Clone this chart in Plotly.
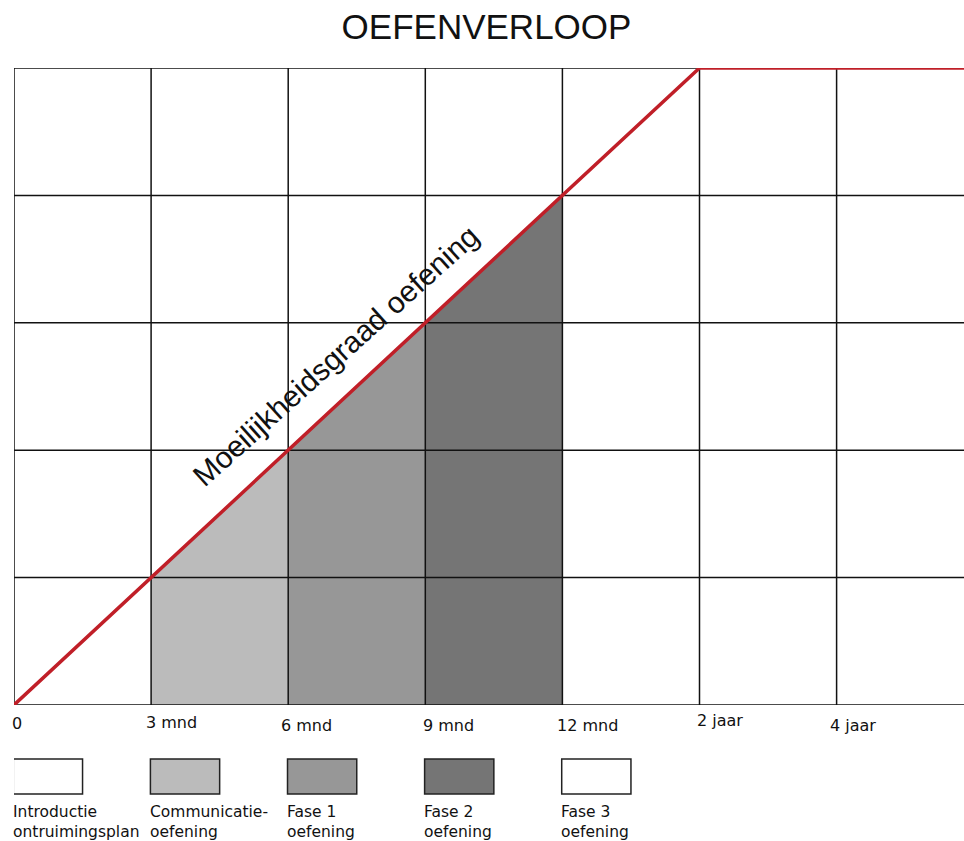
import numpy as np
import plotly.graph_objects as go

# ---- data ----
x_ticks = [0, 1, 2, 3, 4, 5, 6, 7]
tick_labels = ["0", "3 mnd", "6 mnd", "9 mnd", "12 mnd", "2 jaar", "4 jaar"]
y_levels = [0, 1, 2, 3, 4, 5]

difficulty_x = [0, 5, 7]
difficulty_y = [0, 5, 5]

phase_names = ["Introductie<br>ontruimingsplan", "Communicatie-<br>oefening",
               "Fase 1<br>oefening", "Fase 2<br>oefening", "Fase 3<br>oefening"]
phase_start = [0, 1, 2, 3, 4]
phase_end = [1, 2, 3, 4, 5]
phase_colors = ["#ffffff", "#bbbbbb", "#979797", "#757575", "#ffffff"]

title_text = "OEFENVERLOOP"
line_label = "Moeilijkheidsgraad oefening"

# ---- styles ----
ARIAL = "Liberation Sans, Arial, sans-serif"
SANS = "DejaVu Sans, Verdana, sans-serif"
W, H = 964, 841
ML, MR, MT = 14, 0, 68
PLOT_BOTTOM = 705
MB = H - PLOT_BOTTOM
PLOT_H = PLOT_BOTTOM - MT
unit_px = 137.1
x_max = (W - ML - MR) / unit_px
tick_dx = [-2, -5, -7, -2, -5, -3, -7]   # px offsets of tick labels
tick_dy = [2, 3, 0, 0, 0, 5, 0]

fig = go.Figure()

# phase fills under the difficulty line
for s, e, c in zip(phase_start, phase_end, phase_colors):
    ys = float(np.interp(s, difficulty_x, difficulty_y))
    ye = float(np.interp(e, difficulty_x, difficulty_y))
    fig.add_trace(go.Scatter(x=[s, e, e, s, s], y=[0, 0, ye, ys, 0], fill="toself",
                             fillcolor=c, line=dict(width=0), mode="lines",
                             hoverinfo="skip", showlegend=False))

# grid lines (drawn above fills)
gx, gy = [], []
for xv in x_ticks:
    gx += [xv, xv, None]
    gy += [y_levels[0], y_levels[-1], None]
for yv in y_levels:
    gx += [x_ticks[0], x_ticks[-1], None]
    gy += [yv, yv, None]
fig.add_trace(go.Scatter(x=gx, y=gy, mode="lines", line=dict(color="#111111", width=1.5),
                         hoverinfo="skip", showlegend=False))

# difficulty line
fig.add_trace(go.Scatter(x=difficulty_x, y=difficulty_y, mode="lines",
                         line=dict(color="#c01f28", width=3.5),
                         hoverinfo="skip", showlegend=False))

annotations = []
# tick labels
for xv, lab, dx, dy in zip(x_ticks, tick_labels, tick_dx, tick_dy):
    annotations.append(dict(x=xv, y=0, xref="x", yref="y", text=lab, showarrow=False,
                            xanchor="left", yanchor="middle", yshift=-20 + dy, xshift=dx - 2,
                            font=dict(family=SANS, size=16, color="#111111")))

# legend boxes + labels
shapes = []
box_top = -(759 - PLOT_BOTTOM) / PLOT_H
box_bot = -(794 - PLOT_BOTTOM) / PLOT_H
for s, name, c in zip(phase_start, phase_names, phase_colors):
    shapes.append(dict(type="rect", xref="x", yref="paper", x0=s - 0.005, x1=s + 0.5,
                       y0=box_bot, y1=box_top, fillcolor=c,
                       line=dict(color="#222222", width=1.5)))
    annotations.append(dict(x=s, y=box_bot, xref="x", yref="paper", text=name,
                            showarrow=False, xanchor="left", yanchor="top", align="left",
                            yshift=-7, xshift=-3,
                            font=dict(family=SANS, size=15.5, color="#111111")))

# diagonal label
annotations.append(dict(x=2.35, y=2.74, xref="x", yref="y", text=line_label,
                        showarrow=False, textangle=-42,
                        font=dict(family=ARIAL, size=30, color="#111111")))

fig.update_layout(
    width=W, height=H,
    margin=dict(l=ML, r=MR, t=MT, b=MB, pad=0),
    paper_bgcolor="white", plot_bgcolor="white",
    title=dict(text=title_text, x=486.5 / W, xanchor="center",
               y=1 - 27 / H, yanchor="middle",
               font=dict(family=ARIAL, size=35, color="#111111")),
    xaxis=dict(range=[0, x_max], showgrid=False, zeroline=False, showticklabels=False,
               ticks="", fixedrange=True),
    yaxis=dict(range=[0, 5], showgrid=False, zeroline=False, showticklabels=False,
               ticks="", fixedrange=True),
    shapes=shapes, annotations=annotations, showlegend=False,
)

fig.write_html("out.html", config={"displayModeBar": False},
               post_script="document.body.style.margin='0';document.body.style.overflow='hidden';")
